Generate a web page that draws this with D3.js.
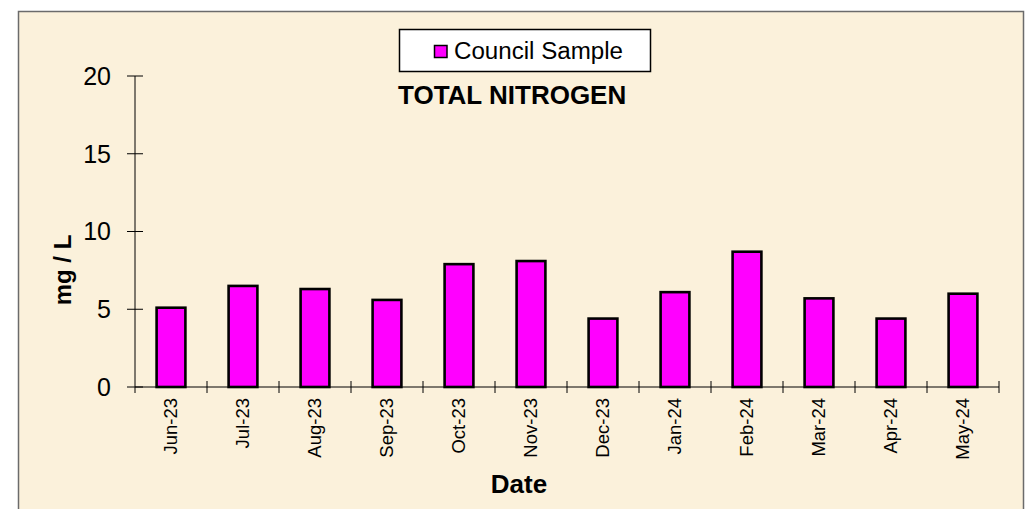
<!DOCTYPE html>
<html>
<head>
<meta charset="utf-8">
<script src="https://cdn.jsdelivr.net/npm/d3@7"></script>
<style>
  html, body { margin: 0; padding: 0; background: #ffffff; }
  svg { display: block; font-family: "Liberation Sans", Arial, sans-serif; }
</style>
</head>
<body>
<svg id="chart" width="1030" height="509"></svg>
<script>
const categories = ["Jun-23","Jul-23","Aug-23","Sep-23","Oct-23","Nov-23","Dec-23","Jan-24","Feb-24","Mar-24","Apr-24","May-24"];
const councilSample = [5.1, 6.5, 6.3, 5.6, 7.9, 8.1, 4.4, 6.1, 8.7, 5.7, 4.4, 6.0];
const yTicks = [0, 5, 10, 15, 20];
const seriesName = "Council Sample";
const chartTitle = "TOTAL NITROGEN";
const xTitle = "Date";
const yTitle = "mg / L";

const svg = d3.select("#chart");

// panel background
svg.append("rect")
  .attr("x", 18.5).attr("y", 11.5)
  .attr("width", 1005).attr("height", 520)
  .attr("fill", "#FBF1DB")
  .attr("stroke", "#6b6b6b").attr("stroke-width", 1.5);

const plot = {left: 135, right: 999, top: 76, bottom: 387};

const x = d3.scaleBand()
  .domain(categories)
  .range([plot.left, plot.right])
  .paddingInner(0.6)
  .paddingOuter(0.3);

const y = d3.scaleLinear().domain([0, 20]).range([plot.bottom, plot.top]);

// bars
svg.append("g").selectAll("rect")
  .data(categories.map((c, i) => ({c, v: councilSample[i]})))
  .join("rect")
  .attr("x", d => x(d.c))
  .attr("y", d => y(d.v))
  .attr("width", x.bandwidth())
  .attr("height", d => y(0) - y(d.v))
  .attr("fill", "#FF00FF")
  .attr("stroke", "#000")
  .attr("stroke-width", 2.6);

// y axis
const yAxis = svg.append("g");
yAxis.append("line")
  .attr("x1", plot.left).attr("x2", plot.left)
  .attr("y1", y(20)).attr("y2", y(0))
  .attr("stroke", "#000").attr("stroke-width", 1);
yAxis.selectAll("line.tick").data(yTicks).join("line")
  .attr("class", "tick")
  .attr("x1", plot.left - 8).attr("x2", plot.left + 8)
  .attr("y1", d => y(d)).attr("y2", d => y(d))
  .attr("stroke", "#000").attr("stroke-width", 1);
yAxis.selectAll("text").data(yTicks).join("text")
  .attr("x", 111).attr("y", d => y(d))
  .attr("dy", "0.35em")
  .attr("text-anchor", "end")
  .attr("font-size", 25)
  .attr("fill", "#000")
  .text(d => d);

// x axis
const xAxis = svg.append("g");
xAxis.append("line")
  .attr("x1", plot.left).attr("x2", plot.right)
  .attr("y1", y(0)).attr("y2", y(0))
  .attr("stroke", "#000").attr("stroke-width", 1);
const boundaries = d3.range(categories.length + 1).map(i => plot.left + i * x.step());
xAxis.selectAll("line.tick").data(boundaries.slice(1)).join("line")
  .attr("class", "tick")
  .attr("x1", d => d).attr("x2", d => d)
  .attr("y1", y(0) - 6).attr("y2", y(0) + 6)
  .attr("stroke", "#000").attr("stroke-width", 1);
xAxis.append("line")
  .attr("x1", plot.left).attr("x2", plot.left)
  .attr("y1", y(0)).attr("y2", y(0) + 6)
  .attr("stroke", "#000").attr("stroke-width", 1);
xAxis.selectAll("text").data(categories).join("text")
  .attr("transform", d => `translate(${x(d) + x.bandwidth() / 2},398) rotate(-90)`)
  .attr("dy", "0.35em")
  .attr("text-anchor", "end")
  .attr("font-size", 18.5)
  .attr("fill", "#000")
  .text(d => d);

// axis titles
svg.append("text")
  .attr("x", 519).attr("y", 493)
  .attr("text-anchor", "middle")
  .attr("font-size", 26).attr("font-weight", "bold")
  .text(xTitle);
svg.append("text")
  .attr("transform", "translate(71,270) rotate(-90)")
  .attr("text-anchor", "middle")
  .attr("font-size", 24).attr("font-weight", "bold")
  .text(yTitle);

// chart title
svg.append("text")
  .attr("x", 398).attr("y", 104)
  .attr("font-size", 26).attr("font-weight", "bold")
  .text(chartTitle);

// legend
const lg = svg.append("g");
lg.append("rect")
  .attr("x", 399.5).attr("y", 29.5).attr("width", 251).attr("height", 42)
  .attr("fill", "#fff").attr("stroke", "#000").attr("stroke-width", 1.5);
lg.append("rect")
  .attr("x", 434.5).attr("y", 45.5).attr("width", 12.5).attr("height", 12)
  .attr("fill", "#FF00FF").attr("stroke", "#000").attr("stroke-width", 1.5);
lg.append("text")
  .attr("x", 454).attr("y", 59)
  .attr("font-size", 23)
  .attr("textLength", 169).attr("lengthAdjust", "spacingAndGlyphs")
  .text(seriesName);
</script>
</body>
</html>
